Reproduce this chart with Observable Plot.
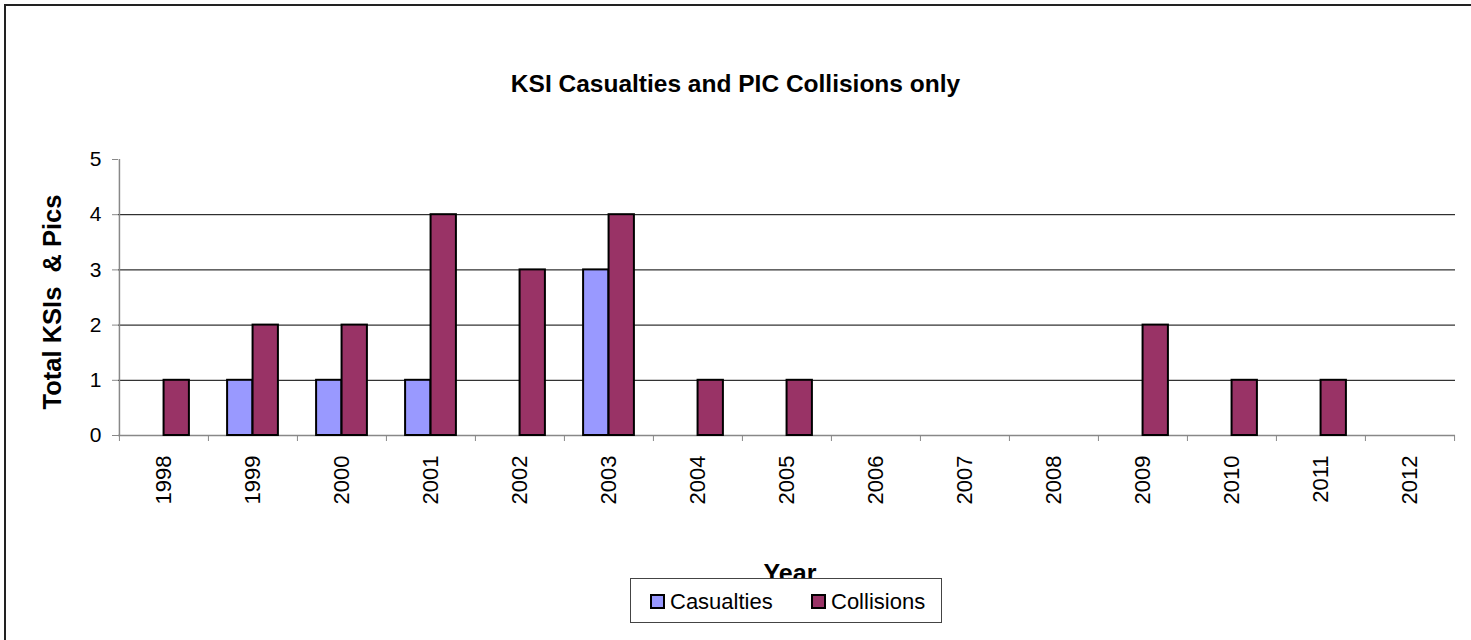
<!DOCTYPE html>
<html>
<head>
<meta charset="utf-8">
<script src="https://cdn.jsdelivr.net/npm/d3@7"></script>
<script src="https://cdn.jsdelivr.net/npm/@observablehq/plot@0.6"></script>
<style>
  html, body { margin: 0; padding: 0; background: #fff; overflow: hidden; }
  #wrap { position: relative; width: 1471px; height: 640px; font-family: "Liberation Sans", Arial, sans-serif; color: #000; }
  #frame { position: absolute; left: 4px; top: 4px; width: 1600px; height: 800px; border: 2px solid #222; box-sizing: border-box; pointer-events: none; }
  #chart { position: absolute; left: 0; top: 0; }
  .abs { position: absolute; white-space: pre; line-height: 1; }
  #title { left: 0; width: 1471px; text-align: center; top: 72px; font-size: 24.5px; font-weight: bold; }
  #ylabel { font-size: 25.5px; font-weight: bold; left: 53px; top: 302px; transform: translate(-50%, -50%) rotate(-90deg); }
  #xlabel { font-size: 25px; font-weight: bold; left: 790px; top: 561px; transform: translateX(-50%); }
  #legend { left: 630px; top: 578px; width: 312px; height: 45px; box-sizing: border-box; border: 1px solid #444; background: #fff; }
  .sw { position: absolute; width: 15px; height: 15px; box-sizing: border-box; border: 2px solid #000; top: 15px; }
  .lt { position: absolute; font-size: 22px; line-height: 1; top: 12px; }
</style>
</head>
<body>
<div id="wrap">
  <div id="chart"></div>
  <div id="frame"></div>
  <div class="abs" id="title"></div>
  <div class="abs" id="ylabel"></div>
  <div class="abs" id="xlabel"></div>
  <div class="abs" id="legend"></div>
</div>
<script>
const years = [1998, 1999, 2000, 2001, 2002, 2003, 2004, 2005, 2006, 2007, 2008, 2009, 2010, 2011, 2012];
const casualties = [0, 1, 1, 1, 0, 3, 0, 0, 0, 0, 0, 0, 0, 0, 0];
const collisions = [1, 2, 2, 4, 3, 4, 1, 1, 0, 0, 0, 2, 1, 1, 0];
const yTicks = [0, 1, 2, 3, 4, 5];
const seriesNames = ["Casualties", "Collisions"];
const seriesColors = ["#9999FF", "#993366"];
const titleText = "KSI Casualties and PIC Collisions only";
const yLabelText = "Total KSIs  & Pics";
const xLabelText = "Year";

const W = 1471, H = 640;
const mL = 118, mR = 16, mT = 159, mB = 205;
const bw = (W - mL - mR) / years.length;
const barW = bw / 3.5;

const casData = years.map((y, i) => ({year: y, value: casualties[i]})).filter(d => d.value > 0);
const colData = years.map((y, i) => ({year: y, value: collisions[i]})).filter(d => d.value > 0);

const chart = Plot.plot({
  width: W,
  height: H,
  marginLeft: mL,
  marginRight: mR,
  marginTop: mT,
  marginBottom: mB,
  style: {fontFamily: "'Liberation Sans', Arial, sans-serif", background: "transparent", color: "#000"},
  x: {type: "band", domain: years, padding: 0},
  y: {domain: [0, 5]},
  marks: [
    Plot.ruleY([1, 2, 3, 4], {stroke: "#000", strokeWidth: 1}),
    Plot.ruleY([0], {stroke: "#888", strokeWidth: 1.5}),
    Plot.ruleX([years[0]], {x: d => d, dx: -bw / 2, y1: 0, y2: 5, stroke: "#888", strokeWidth: 1.5}),
    Plot.barY(casData, {x: "year", y: "value", fill: seriesColors[0], stroke: "#000", strokeWidth: 2,
      insetLeft: bw / 2 - barW, insetRight: bw / 2}),
    Plot.barY(colData, {x: "year", y: "value", fill: seriesColors[1], stroke: "#000", strokeWidth: 2,
      insetLeft: bw / 2, insetRight: bw / 2 - barW}),
    Plot.axisY({ticks: yTicks, tickSize: 6, tickPadding: 11, fontSize: 21, label: null, stroke: "#888", tickFormat: d3.format("d")}),
    Plot.axisX({ticks: years, tickSize: 6, text: null, dx: -bw / 2, stroke: "#888", label: null}),
    Plot.axisX({ticks: [years[years.length - 1]], tickSize: 6, text: null, dx: bw / 2, stroke: "#888", label: null}),
    Plot.axisX({ticks: years, tickSize: 0, tickPadding: 20, tickRotate: -90, fontSize: 22, label: null, tickFormat: d => String(d)})
  ]
});
document.getElementById("chart").appendChild(chart);

document.getElementById("title").textContent = titleText;
document.getElementById("ylabel").textContent = yLabelText;
document.getElementById("xlabel").textContent = xLabelText;

const legend = document.getElementById("legend");
const swLeft = [19, 180];
seriesNames.forEach((name, i) => {
  const sw = document.createElement("div");
  sw.className = "sw";
  sw.style.left = swLeft[i] + "px";
  sw.style.background = seriesColors[i];
  legend.appendChild(sw);
  const t = document.createElement("div");
  t.className = "lt";
  t.style.left = (swLeft[i] + 20) + "px";
  t.textContent = name;
  legend.appendChild(t);
});
</script>
</body>
</html>
